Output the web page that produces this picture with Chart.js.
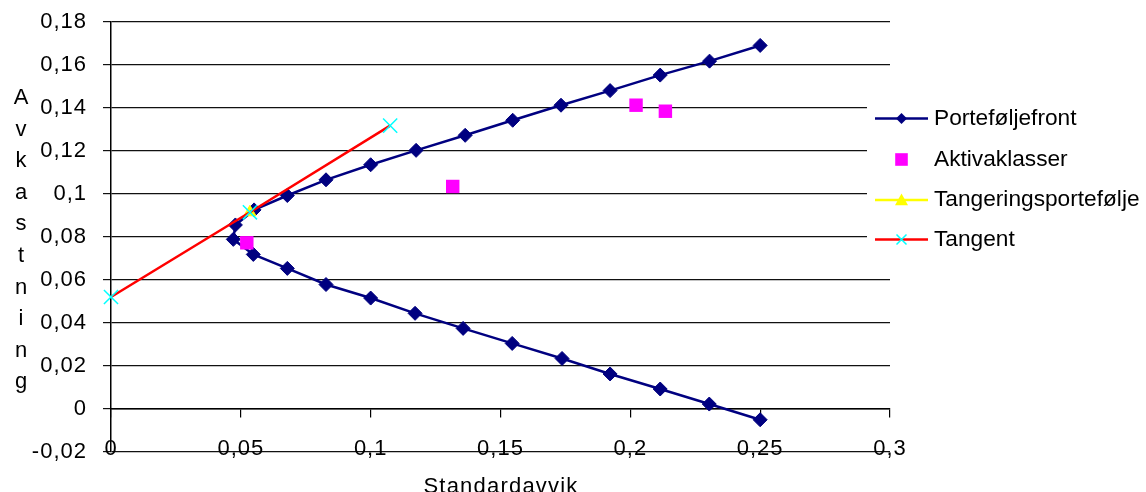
<!DOCTYPE html>
<html>
<head>
<meta charset="utf-8">
<script src="https://cdn.jsdelivr.net/npm/chart.js@4/dist/chart.umd.min.js"></script>
<style>
  html, body { margin: 0; padding: 0; background: #ffffff; }
  #wrap { width: 1146px; height: 492px; position: relative; }
</style>
</head>
<body>
<div id="wrap"><canvas id="c"></canvas></div>
<script>
// Efficient frontier (standard deviation, expected return)
const frontSigma  = [0.2500, 0.2305, 0.2115, 0.1922, 0.1733, 0.1547, 0.1364, 0.1175, 0.1000, 0.0828, 0.0679, 0.0551, 0.0479,
                     0.0471, 0.0548, 0.0679, 0.0828, 0.1000, 0.1171, 0.1356, 0.1545, 0.1737, 0.1922, 0.2115, 0.2304, 0.2500];
const frontReturn = [0.1691, 0.1618, 0.1553, 0.1481, 0.1413, 0.1343, 0.1273, 0.1203, 0.1136, 0.1066, 0.0993, 0.0926, 0.0856,
                     0.0789, 0.0719, 0.0654, 0.0579, 0.0516, 0.0445, 0.0375, 0.0305, 0.0235, 0.0163, 0.0093, 0.0023, -0.0050];

// Individual asset classes
const assetSigma  = [0.0523, 0.1316, 0.2022, 0.2135];
const assetReturn = [0.0773, 0.1035, 0.1413, 0.1385];

// Tangency portfolio
const tangencySigma  = [0.0535];
const tangencyReturn = [0.0915];

// Tangent line from the risk-free rate through the tangency portfolio
const tangentSigma  = [0.0, 0.0535, 0.1075];
const tangentReturn = [0.0521, 0.0915, 0.1318];

// Axis ticks
const xTickValues = [0, 0.05, 0.1, 0.15, 0.2, 0.25, 0.3];
const xTickLabels = ['0', '0,05', '0,1', '0,15', '0,2', '0,25', '0,3'];
const yTickValues = [-0.02, 0, 0.02, 0.04, 0.06, 0.08, 0.1, 0.12, 0.14, 0.16, 0.18];
const yTickLabels = ['-0,02', '0', '0,02', '0,04', '0,06', '0,08', '0,1', '0,12', '0,14', '0,16', '0,18'];

// Titles and legend
const seriesNames = ['Porteføljefront', 'Aktivaklasser', 'Tangeringsportefølje', 'Tangent'];
const xTitle = 'Standardavvik';
const yTitle = 'Avkastning';

const FONT = '"Liberation Sans", Arial, sans-serif';
const NAVY = '#000080', MAGENTA = '#FF00FF', YELLOW = '#FFFF00', RED = '#FF0000', CYAN = '#00FFFF';

const pts = (xs, ys) => xs.map((x, i) => ({ x, y: ys[i] }));
const fixedTicks = values => scale => { scale.ticks = values.map(v => ({ value: v })); };

function marker(ctx, style, x, y, r, fill, stroke, lw) {
  ctx.save();
  ctx.fillStyle = fill; ctx.strokeStyle = stroke; ctx.lineWidth = lw;
  ctx.beginPath();
  if (style === 'diamond') {
    ctx.moveTo(x, y - r); ctx.lineTo(x + r, y); ctx.lineTo(x, y + r); ctx.lineTo(x - r, y); ctx.closePath();
    ctx.fill();
  } else if (style === 'square') {
    ctx.rect(x - r, y - r, 2 * r, 2 * r); ctx.fill();
  } else if (style === 'triangle') {
    ctx.moveTo(x, y - r); ctx.lineTo(x + r, y + r * 0.8); ctx.lineTo(x - r, y + r * 0.8); ctx.closePath();
    ctx.fill();
  } else if (style === 'x') {
    ctx.moveTo(x - r, y - r); ctx.lineTo(x + r, y + r);
    ctx.moveTo(x + r, y - r); ctx.lineTo(x - r, y + r);
    ctx.stroke();
  }
  ctx.restore();
}

const decor = {
  id: 'decor',
  beforeDraw(chart) {
    const ctx = chart.ctx;
    ctx.save();
    ctx.fillStyle = '#ffffff';
    ctx.fillRect(0, 0, chart.width, chart.height);
    ctx.restore();
    // slightly open tracking for the axis tick labels
    ctx.letterSpacing = '1px';
  },
  afterDraw(chart) {
    const ctx = chart.ctx;
    ctx.save();
    ctx.fillStyle = '#000';
    ctx.font = '22px ' + FONT;
    ctx.textAlign = 'center';
    ctx.textBaseline = 'alphabetic';
    ctx.letterSpacing = '0px';

    // Vertical axis title, one letter per line
    Array.from(yTitle).forEach((ch, i) => ctx.fillText(ch, 21, 104 + i * 31.6));

    // Horizontal axis title
    ctx.letterSpacing = '1.2px';
    ctx.fillText(xTitle, 501, 493);
    ctx.letterSpacing = '0px';

    // Legend box
    ctx.fillStyle = '#ffffff';
    ctx.fillRect(867, 84, 1146 - 867, 178);
    const rows = [118.5, 159.5, 200, 239.5];
    const legendMarks = [
      { line: NAVY, mk: 'diamond', r: 5.5, fill: NAVY, stroke: NAVY },
      { line: null, mk: 'square', r: 6.3, fill: MAGENTA, stroke: MAGENTA },
      { line: YELLOW, mk: 'triangle', r: 6.5, fill: YELLOW, stroke: YELLOW },
      { line: RED, mk: 'x', r: 5, fill: CYAN, stroke: CYAN }
    ];
    rows.forEach((y, i) => {
      const s = legendMarks[i];
      if (s.line) {
        ctx.strokeStyle = s.line; ctx.lineWidth = 2.5;
        ctx.beginPath(); ctx.moveTo(875, y); ctx.lineTo(928, y); ctx.stroke();
      }
      marker(ctx, s.mk, 901.5, y, s.r, s.fill, s.stroke, 1.5);
      ctx.fillStyle = '#000';
      ctx.textAlign = 'left';
      ctx.textBaseline = 'middle';
      ctx.font = '22.7px ' + FONT;
      ctx.fillText(seriesNames[i], 934, y);
    });
    ctx.restore();
  }
};

const tickFont = { family: FONT, size: 22 };

new Chart(document.getElementById('c'), {
  type: 'scatter',
  data: {
    datasets: [
      {
        label: seriesNames[3],
        data: pts(tangentSigma, tangentReturn),
        showLine: true,
        borderColor: RED,
        borderWidth: 2.5,
        pointStyle: 'crossRot',
        pointRadius: 10,
        pointBorderColor: CYAN,
        pointBorderWidth: 1.5,
        clip: false,
        order: 0
      },
      {
        label: seriesNames[2],
        data: pts(tangencySigma, tangencyReturn),
        showLine: false,
        pointStyle: 'triangle',
        pointRadius: 7,
        backgroundColor: YELLOW,
        borderColor: YELLOW,
        pointBorderWidth: 1,
        clip: false,
        order: 1
      },
      {
        label: seriesNames[1],
        data: pts(assetSigma, assetReturn),
        showLine: false,
        pointStyle: 'rect',
        pointRadius: 9.5,
        backgroundColor: MAGENTA,
        borderColor: MAGENTA,
        pointBorderWidth: 0,
        clip: false,
        order: 2
      },
      {
        label: seriesNames[0],
        data: pts(frontSigma, frontReturn),
        showLine: true,
        borderColor: NAVY,
        backgroundColor: NAVY,
        borderWidth: 2.5,
        pointStyle: 'rectRot',
        pointRadius: 7,
        pointBorderWidth: 1,
        clip: false,
        order: 3
      }
    ]
  },
  options: {
    responsive: true,
    maintainAspectRatio: false,
    animation: false,
    devicePixelRatio: 1,
    layout: { padding: { top: 22, right: 256, bottom: 40, left: 0 } },
    plugins: { legend: { display: false }, tooltip: { enabled: false } },
    scales: {
      x: {
        type: 'linear',
        position: { y: 0 },
        min: 0, max: 0.3,
        afterBuildTicks: fixedTicks(xTickValues),
        ticks: { display: false },
        grid: { drawOnChartArea: false, drawTicks: true, tickLength: 8, color: '#000', lineWidth: 1.2 },
        border: { display: true, color: '#000', width: 1.5 }
      },
      xLabels: {
        type: 'linear',
        axis: 'x',
        position: { y: -0.02 },
        min: 0, max: 0.3,
        afterBuildTicks: fixedTicks(xTickValues),
        ticks: {
          callback: (v, i) => xTickLabels[i],
          font: tickFont, color: '#000',
          padding: -16, maxRotation: 0, autoSkip: false
        },
        grid: { display: false, drawTicks: false },
        border: { display: false }
      },
      y: {
        type: 'linear',
        position: 'left',
        min: -0.02, max: 0.18,
        afterBuildTicks: fixedTicks(yTickValues),
        ticks: {
          callback: (v, i) => yTickLabels[i],
          font: tickFont, color: '#000', padding: 16, autoSkip: false
        },
        grid: { color: '#111', lineWidth: 1.2, tickLength: 8 },
        border: { color: '#000', width: 1.5 },
        afterFit: s => { s.width = 111; s.paddingTop = 0; s.paddingBottom = 0; }
      }
    }
  },
  plugins: [decor]
});
</script>
</body>
</html>
